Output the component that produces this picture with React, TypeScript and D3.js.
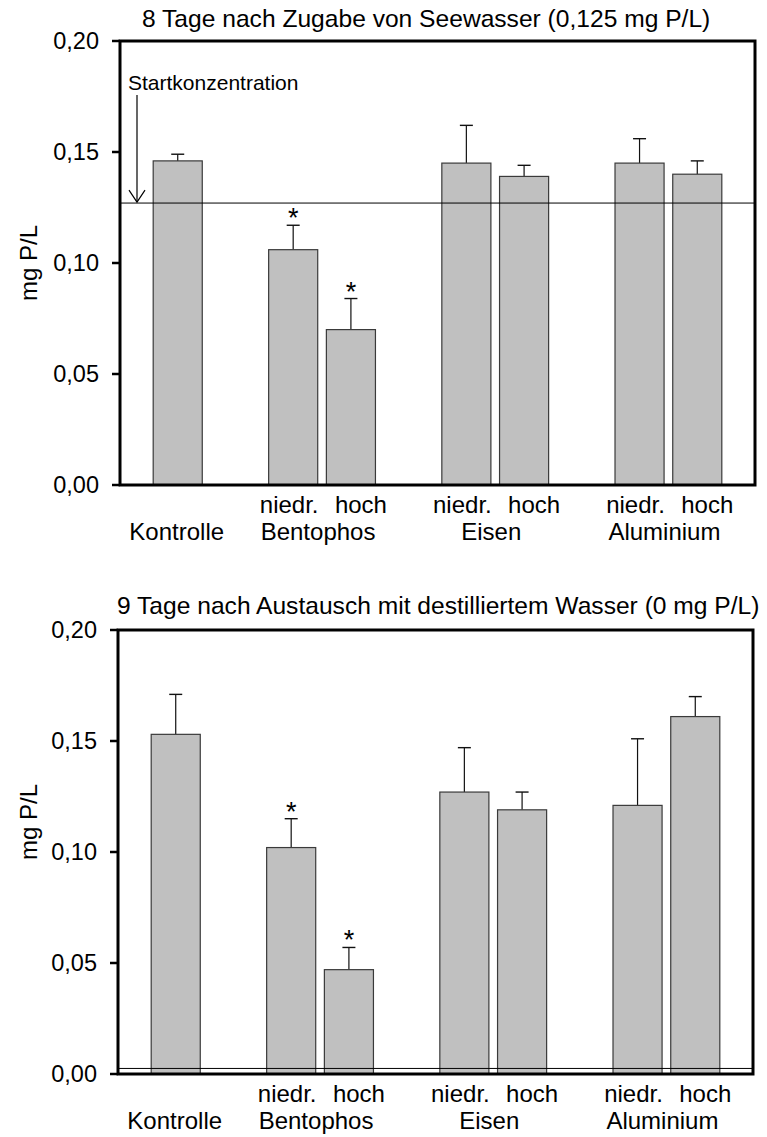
import * as d3 from 'd3';

// Phosphor concentration per treatment (mg P/L)
const groupNames = ['Kontrolle', 'Bentophos', 'Eisen', 'Aluminium'];
const barGroup = [0, 1, 1, 2, 2, 3, 3];
const barLevel = ['', 'niedr.', 'hoch', 'niedr.', 'hoch', 'niedr.', 'hoch'];

const meanSeewasser = [0.146, 0.106, 0.07, 0.145, 0.139, 0.145, 0.14];
const errSeewasser = [0.003, 0.011, 0.014, 0.017, 0.005, 0.011, 0.006];
const sigSeewasser = [false, true, true, false, false, false, false];

const meanDest = [0.153, 0.102, 0.047, 0.127, 0.119, 0.121, 0.161];
const errDest = [0.018, 0.013, 0.01, 0.02, 0.008, 0.03, 0.009];
const sigDest = [false, true, true, false, false, false, false];

const yTicks = [0, 0.05, 0.1, 0.15, 0.2];
const refSeewasser = 0.127;
const refDest = 0.0025;

const FONT = '"Liberation Sans", Arial, sans-serif';
const fmt = (v: number) => d3.format('.2f')(v).replace('.', ',');

// slot index on a 0..11 axis: Kontrolle alone, then pairs
const slotOf = (i: number) => (barGroup[i] === 0 ? 1 : 3 * barGroup[i] + (barLevel[i] === 'hoch' ? 1 : 0));

interface PanelProps {
  title: string;
  titleX: number;
  titleY: number;
  left: number;
  right: number;
  top: number;
  bottom: number;
  means: number[];
  errs: number[];
  sig: boolean[];
  refValue: number;
  yLabelY: number;
  showStart?: boolean;
}

function Panel(p: PanelProps) {
  const x = d3.scaleLinear().domain([0, 11]).range([p.left, p.right]);
  const y = d3.scaleLinear().domain([0, 0.2]).range([p.bottom, p.top]);
  const bw = x(0.85) - x(0);

  const pairs = [1, 2, 3];
  const labelSize = 24;

  return (
    <g fontFamily={FONT}>
      <text x={p.titleX} y={p.titleY} fontSize={24.6} fill="#000">
        {p.title}
      </text>

      {/* y axis label */}
      <text
        transform={`translate(37,${p.yLabelY}) rotate(-90)`}
        textAnchor="middle"
        fontSize={labelSize}
        fill="#000"
      >
        mg P/L
      </text>

      {/* ticks */}
      {yTicks.map((t) => (
        <g key={t}>
          <line x1={p.left - 8} x2={p.left} y1={y(t)} y2={y(t)} stroke="#000" strokeWidth={2.5} />
          <text x={p.left - 21} y={y(t)} dy="0.36em" textAnchor="end" fontSize={23.5} fill="#000">
            {fmt(t)}
          </text>
        </g>
      ))}

      {/* bars */}
      {p.means.map((m, i) => {
        const cx = x(slotOf(i));
        const top = y(m + p.errs[i]);
        return (
          <g key={i}>
            <line x1={cx} x2={cx} y1={y(m)} y2={top} stroke="#111" strokeWidth={1.2} />
            <line x1={cx - 6.5} x2={cx + 6.5} y1={top} y2={top} stroke="#111" strokeWidth={1.4} />
            <rect
              x={cx - bw / 2}
              y={y(m)}
              width={bw}
              height={y(0) - y(m)}
              fill="#c0c0c0"
              stroke="#3a3a3a"
              strokeWidth={1.2}
            />
            {p.sig[i] && (
              <text x={cx} y={top + 2} textAnchor="middle" fontSize={27} fill="#000">
                *
              </text>
            )}
          </g>
        );
      })}

      {/* reference line */}
      <line x1={p.left} x2={p.right} y1={y(p.refValue)} y2={y(p.refValue)} stroke="#000" strokeWidth={1} />

      {p.showStart && (
        <g>
          <text x={p.left + 8} y={y(0.178)} fontSize={21} fill="#000">
            Startkonzentration
          </text>
          <line x1={p.left + 17} x2={p.left + 17} y1={y(0.1757)} y2={y(p.refValue) - 1} stroke="#000" strokeWidth={1.2} />
          <polyline
            points={`${p.left + 9},${y(p.refValue) - 13} ${p.left + 17},${y(p.refValue) - 1} ${p.left + 25},${y(p.refValue) - 13}`}
            fill="none"
            stroke="#000"
            strokeWidth={1.2}
          />
        </g>
      )}

      {/* frame */}
      <rect
        x={p.left}
        y={p.top}
        width={p.right - p.left}
        height={p.bottom - p.top}
        fill="none"
        stroke="#000"
        strokeWidth={3}
      />

      {/* category labels */}
      {p.means.map((_, i) =>
        barLevel[i] ? (
          <text
            key={`lv${i}`}
            x={x(slotOf(i)) + (barLevel[i] === 'hoch' ? 10 : -4)}
            y={p.bottom + 28}
            textAnchor="middle"
            fontSize={labelSize}
            fill="#000"
          >
            {barLevel[i]}
          </text>
        ) : null
      )}
      <text x={x(1) - 1} y={p.bottom + 55} textAnchor="middle" fontSize={labelSize} fill="#000">
        {groupNames[0]}
      </text>
      {pairs.map((g) => (
        <text key={g} x={x(3 * g + 0.5) - 4} y={p.bottom + 55} textAnchor="middle" fontSize={labelSize} fill="#000">
          {groupNames[g]}
        </text>
      ))}
    </g>
  );
}

export default function App() {
  return (
    <div style={{ position: 'absolute', left: 0, top: 0 }}>
      <svg width={767} height={1137} style={{ display: 'block', background: '#fff' }}>
        <Panel
          title="8 Tage nach Zugabe von Seewasser (0,125 mg P/L)"
          titleX={142}
          titleY={27}
          left={120}
          right={755}
          top={41}
          bottom={485}
          means={meanSeewasser}
          errs={errSeewasser}
          sig={sigSeewasser}
          refValue={refSeewasser}
          yLabelY={263}
          showStart
        />
        <Panel
          title="9 Tage nach Austausch mit destilliertem Wasser (0 mg P/L)"
          titleX={117}
          titleY={614}
          left={118}
          right={753}
          top={630}
          bottom={1074}
          means={meanDest}
          errs={errDest}
          sig={sigDest}
          refValue={refDest}
          yLabelY={822}
        />
      </svg>
    </div>
  );
}
